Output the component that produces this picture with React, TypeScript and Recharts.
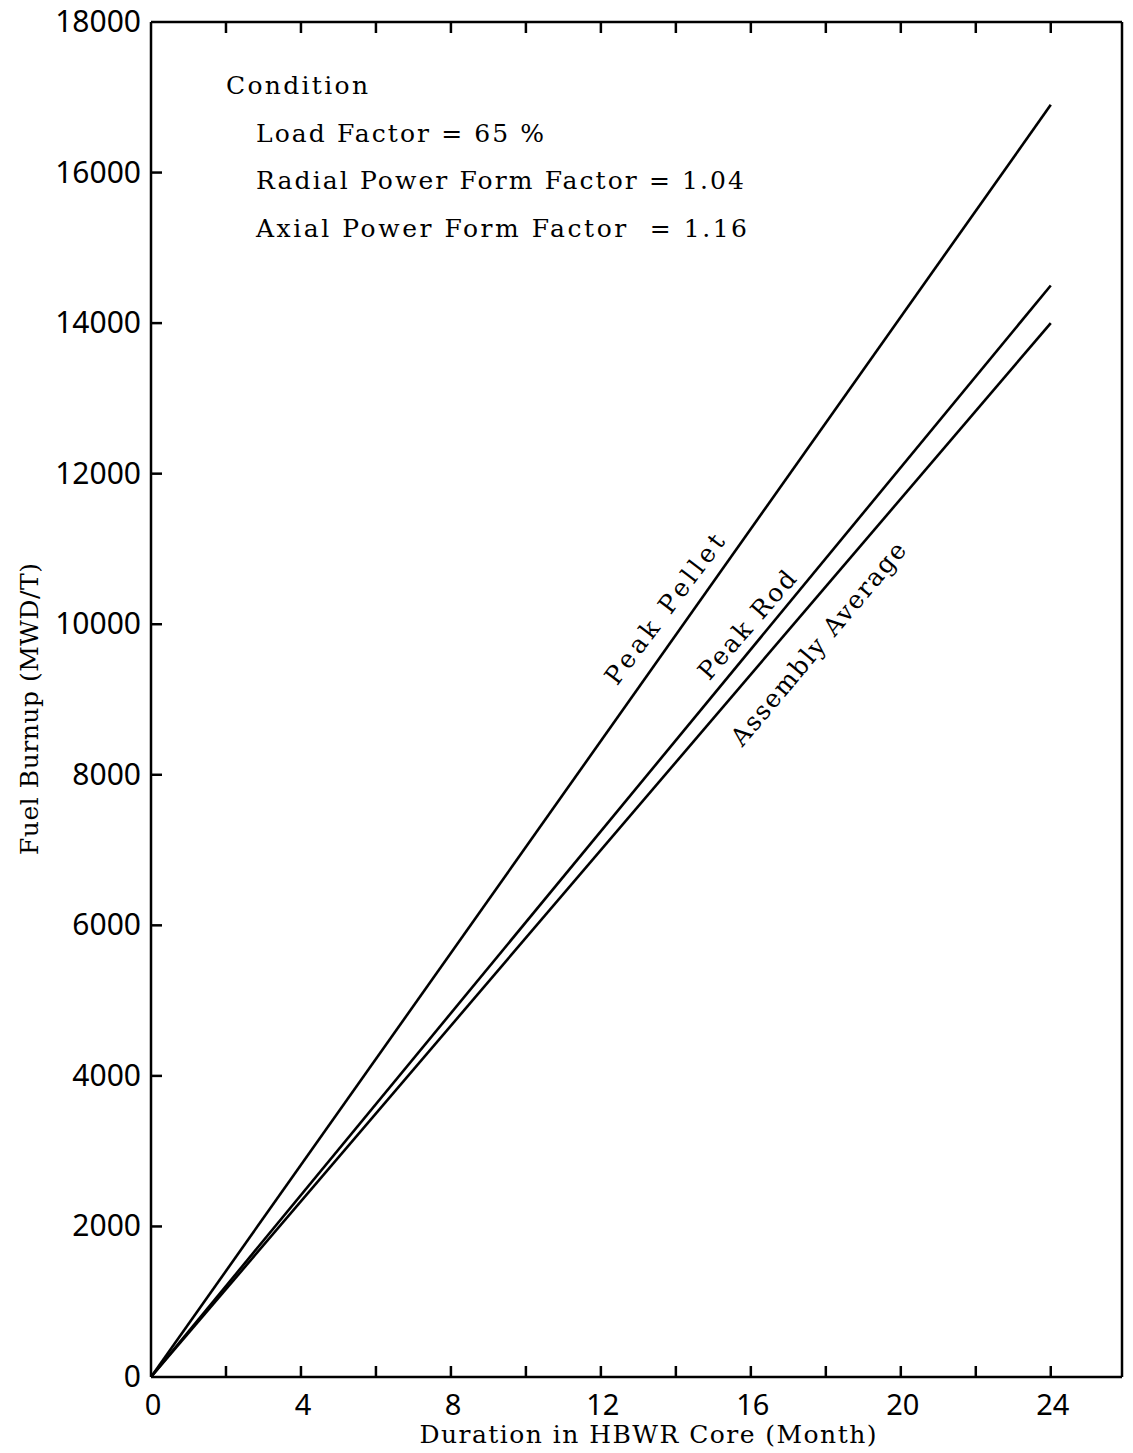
import { LineChart, Line, XAxis, YAxis, ReferenceDot } from 'recharts'

const months = [0, 24]
const peakPellet = [0, 16900]
const peakRod = [0, 14500]
const assemblyAverage = [0, 14000]

const xTicks = [0, 2, 4, 6, 8, 10, 12, 14, 16, 18, 20, 22, 24]
const yTicks = [0, 2000, 4000, 6000, 8000, 10000, 12000, 14000, 16000, 18000]

const conditionLines = [
  'Condition',
  'Load Factor = 65 %',
  'Radial Power Form Factor = 1.04',
  'Axial Power Form Factor  = 1.16',
]

// where each curve name sits, in data units, and its slant
const curveLabels = [
  { text: 'Peak Pellet', month: 13.7, burnup: 10200, angle: -53 },
  { text: 'Peak Rod', month: 15.9, burnup: 9990, angle: -49 },
  { text: 'Assembly Average', month: 17.8, burnup: 9740, angle: -50 },
]

const data = months.map((m, i) => ({
  month: m,
  pellet: peakPellet[i],
  rod: peakRod[i],
  avg: assemblyAverage[i],
}))

const W = 1133
const H = 1453
const type = '"DejaVu Serif", serif'
const sans = '"Noto Sans", sans-serif'

// typewriter text: a serif face spread out to the width it has in the scan
function Typed({ x, y, len, children, ...rest }: any) {
  return (
    <text
      x={x}
      y={y}
      textLength={len}
      lengthAdjust="spacing"
      fontFamily={type}
      fontSize={25}
      fill="#000"
      style={{ whiteSpace: 'pre' }}
      {...rest}
    >
      {children}
    </text>
  )
}

function BottomTick({ x, y, payload }: any) {
  const v = payload.value
  return (
    <g>
      {v !== 0 && <line x1={x} y1={y} x2={x} y2={y - 11} stroke="#000" strokeWidth={2.5} />}
      {v % 4 === 0 && (
        <text x={x + 2} y={y + 38} textAnchor="middle" fontFamily={sans} fontSize={29} fill="#000">
          {v}
        </text>
      )}
    </g>
  )
}

function TopTick({ x, y, payload }: any) {
  if (payload.value === 0) return <g />
  return <line x1={x} y1={y} x2={x} y2={y + 11} stroke="#000" strokeWidth={2.5} />
}

function LeftTick({ x, y, payload }: any) {
  return (
    <g>
      {payload.value !== 0 && payload.value !== 18000 && (
        <line x1={x} y1={y} x2={x + 11} y2={y} stroke="#000" strokeWidth={2.5} />
      )}
      <text x={x - 10} y={y + 10} textAnchor="end" fontFamily={sans} fontSize={30} fill="#000">
        {payload.value}
      </text>
    </g>
  )
}

function RightTick({ x, y, payload }: any) {
  if (payload.value === 0 || payload.value === 18000) return <g />
  return <line x1={x} y1={y} x2={x - 11} y2={y} stroke="#000" strokeWidth={2.5} />
}

const labelLens: Record<string, number> = {
  'Peak Pellet': 181,
  'Peak Rod': 135,
  'Assembly Average': 257,
}
const conditionLens = [142, 288, 488, 491]

export default function App() {
  return (
    <div style={{ position: 'absolute', left: 0, top: 0, width: W, height: H, background: '#fff' }}>
      <LineChart width={W} height={H} data={data} margin={{ top: 0, right: 0, bottom: 0, left: 0 }}>
        <XAxis
          xAxisId="bottom"
          dataKey="month"
          type="number"
          domain={[0, 25.9]}
          ticks={xTicks}
          allowDataOverflow
          height={76}
          tickSize={0}
          tickMargin={0}
          tickLine={false}
          axisLine={{ stroke: '#000', strokeWidth: 2.5 }}
          tick={<BottomTick />}
        />
        <XAxis
          xAxisId="top"
          orientation="top"
          dataKey="month"
          type="number"
          domain={[0, 25.9]}
          ticks={xTicks}
          allowDataOverflow
          height={22}
          tickSize={0}
          tickMargin={0}
          tickLine={false}
          axisLine={{ stroke: '#000', strokeWidth: 2.5 }}
          tick={<TopTick />}
        />
        <YAxis
          yAxisId="left"
          type="number"
          domain={[0, 18000]}
          ticks={yTicks}
          width={151}
          tickSize={0}
          tickMargin={0}
          tickLine={false}
          axisLine={{ stroke: '#000', strokeWidth: 2.5 }}
          tick={<LeftTick />}
        />
        <YAxis
          yAxisId="right"
          orientation="right"
          type="number"
          domain={[0, 18000]}
          ticks={yTicks}
          width={11}
          tickSize={0}
          tickMargin={0}
          tickLine={false}
          axisLine={{ stroke: '#000', strokeWidth: 2.5 }}
          tick={<RightTick />}
        />
        <Line xAxisId="bottom" yAxisId="left" type="linear" dataKey="pellet" stroke="#000" strokeWidth={2.6} dot={false} isAnimationActive={false} />
        <Line xAxisId="bottom" yAxisId="left" type="linear" dataKey="rod" stroke="#000" strokeWidth={2.6} dot={false} isAnimationActive={false} />
        <Line xAxisId="bottom" yAxisId="left" type="linear" dataKey="avg" stroke="#000" strokeWidth={2.6} dot={false} isAnimationActive={false} />
        {curveLabels.map((c) => (
          <ReferenceDot
            key={c.text}
            xAxisId="bottom"
            yAxisId="left"
            x={c.month}
            y={c.burnup}
            r={0}
            shape={(p: any) => (
              <Typed
                x={p.cx}
                y={p.cy}
                len={labelLens[c.text]}
                transform={`rotate(${c.angle} ${p.cx} ${p.cy})`}
                textAnchor="middle"
                dominantBaseline="central"
              >
                {c.text}
              </Typed>
            )}
          />
        ))}
      </LineChart>
      <svg width={W} height={H} style={{ position: 'absolute', left: 0, top: 0, pointerEvents: 'none' }}>
        {conditionLines.map((t, i) => (
          <Typed key={i} x={i === 0 ? 226 : 256} y={94 + i * 47.5} len={conditionLens[i]}>
            {t}
          </Typed>
        ))}
        <Typed
          x={0}
          y={0}
          len={292}
          transform="translate(38 709) rotate(-90)"
          textAnchor="middle"
        >
          Fuel Burnup (MWD/T)
        </Typed>
        <Typed x={648} y={1443} len={457} textAnchor="middle">
          Duration in HBWR Core (Month)
        </Typed>
      </svg>
    </div>
  )
}
